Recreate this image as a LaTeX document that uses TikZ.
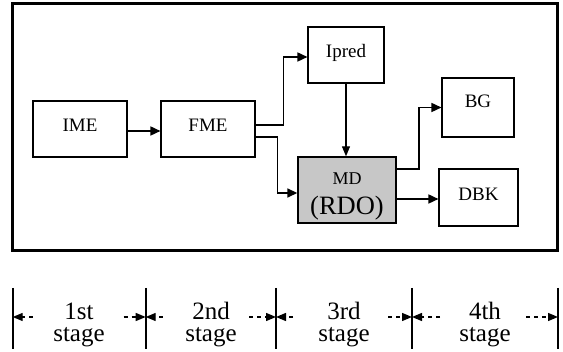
\documentclass[tikz,border=0pt]{standalone}
\usepackage{fontspec}
\setmainfont{Liberation Serif}
\usetikzlibrary{arrows.meta}
\begin{document}
\begin{tikzpicture}[x=1pt,y=-1pt,
  box/.style={draw,line width=1.1pt,minimum width=#1,inner sep=0pt,font=\fontsize{19}{22}\selectfont},
  arr/.style={line width=1.6pt,-{Triangle[length=10pt,width=9pt]}},
  darr/.style={line width=1.3pt,dash pattern=on 4pt off 4pt,-{Triangle[length=10pt,width=8pt]}},
  bar/.style={line width=2.4pt},
  stagetext/.style={align=center,font=\fontsize{25}{22}\selectfont,inner sep=0pt}]
\useasboundingbox (0,0) rectangle (563,352);
\draw[line width=3pt] (12.7,4) rectangle (557,250.5);
% boxes
\node[box=94pt,minimum height=56pt] (ime) at (80,129) {\raisebox{4pt}[\height][\depth]{IME}};
\node[box=94pt,minimum height=56pt] (fme) at (208,129) {\raisebox{4pt}[\height][\depth]{FME}};
\node[box=76pt,minimum height=56pt] (ipred) at (346,55) {\raisebox{2.5pt}[\height][\depth]{Ipred}};
\node[box=98pt,minimum height=66pt,fill=black!22,line width=1.4pt] (md) at (347,190) {};
\node[font=\fontsize{18}{20}\selectfont,anchor=base,inner sep=0pt] (mdt) at (347,185) {MD};
\node[font=\fontsize{26.5}{28}\selectfont,anchor=base,inner sep=0pt] (rdo) at (347,215) {(RDO)};
\node[box=72pt,minimum height=59pt] (bg) at (478,107.5) {\raisebox{6pt}[\height][\depth]{BG}};
\node[box=79pt,minimum height=57pt] (dbk) at (478.5,197.5) {\raisebox{3.5pt}[\height][\depth]{DBK}};
% connectors
\draw[arr] ([yshift=-2pt]ime.east) -- ([yshift=-2pt]fme.west);
\draw[arr] ([yshift=4pt]fme.east) -- ++(28,0) |- ([yshift=-2pt]ipred.west);
\draw[arr] ([yshift=-8pt]fme.east) -- ++(22,0) |- ([yshift=-3pt]md.west);
\draw[line width=1.2pt,-{Triangle[length=10pt,width=8pt]}] (ipred.south) -- (ipred.south |- md.north);
\draw[arr] ([yshift=21pt]md.east) -- ++(22,0) |- (bg.west);
\draw[arr] ([yshift=-9pt]md.east) -- ([yshift=-9pt]md.east -| dbk.west);
% stages
\foreach \n/\x in {b0/12.7,b1/145.7,b2/276,b3/412,b4/558}{
  \coordinate (\n) at (\x,317);
  \draw[bar] (\x,288) -- (\x,349);
}
\draw[darr] ([xshift=20pt]b0) -- (b0);
\draw[darr] ([xshift=-22pt]b1) -- (b1);
\draw[darr] ([xshift=17pt]b1) -- (b1);
\draw[darr] ([xshift=-27pt]b2) -- (b2);
\draw[darr] ([xshift=17pt]b2) -- (b2);
\draw[darr] ([xshift=-24pt]b3) -- (b3);
\draw[darr] ([xshift=28pt]b3) -- (b3);
\draw[darr] ([xshift=-32pt]b4) -- (b4);
\node[stagetext] (s1) at (79,325) {1st\\stage};
\node[stagetext] (s2) at (211,325) {2nd\\stage};
\node[stagetext] (s3) at (344,325) {3rd\\stage};
\node[stagetext] (s4) at (485,325) {4th\\stage};
\end{tikzpicture}
\end{document}
